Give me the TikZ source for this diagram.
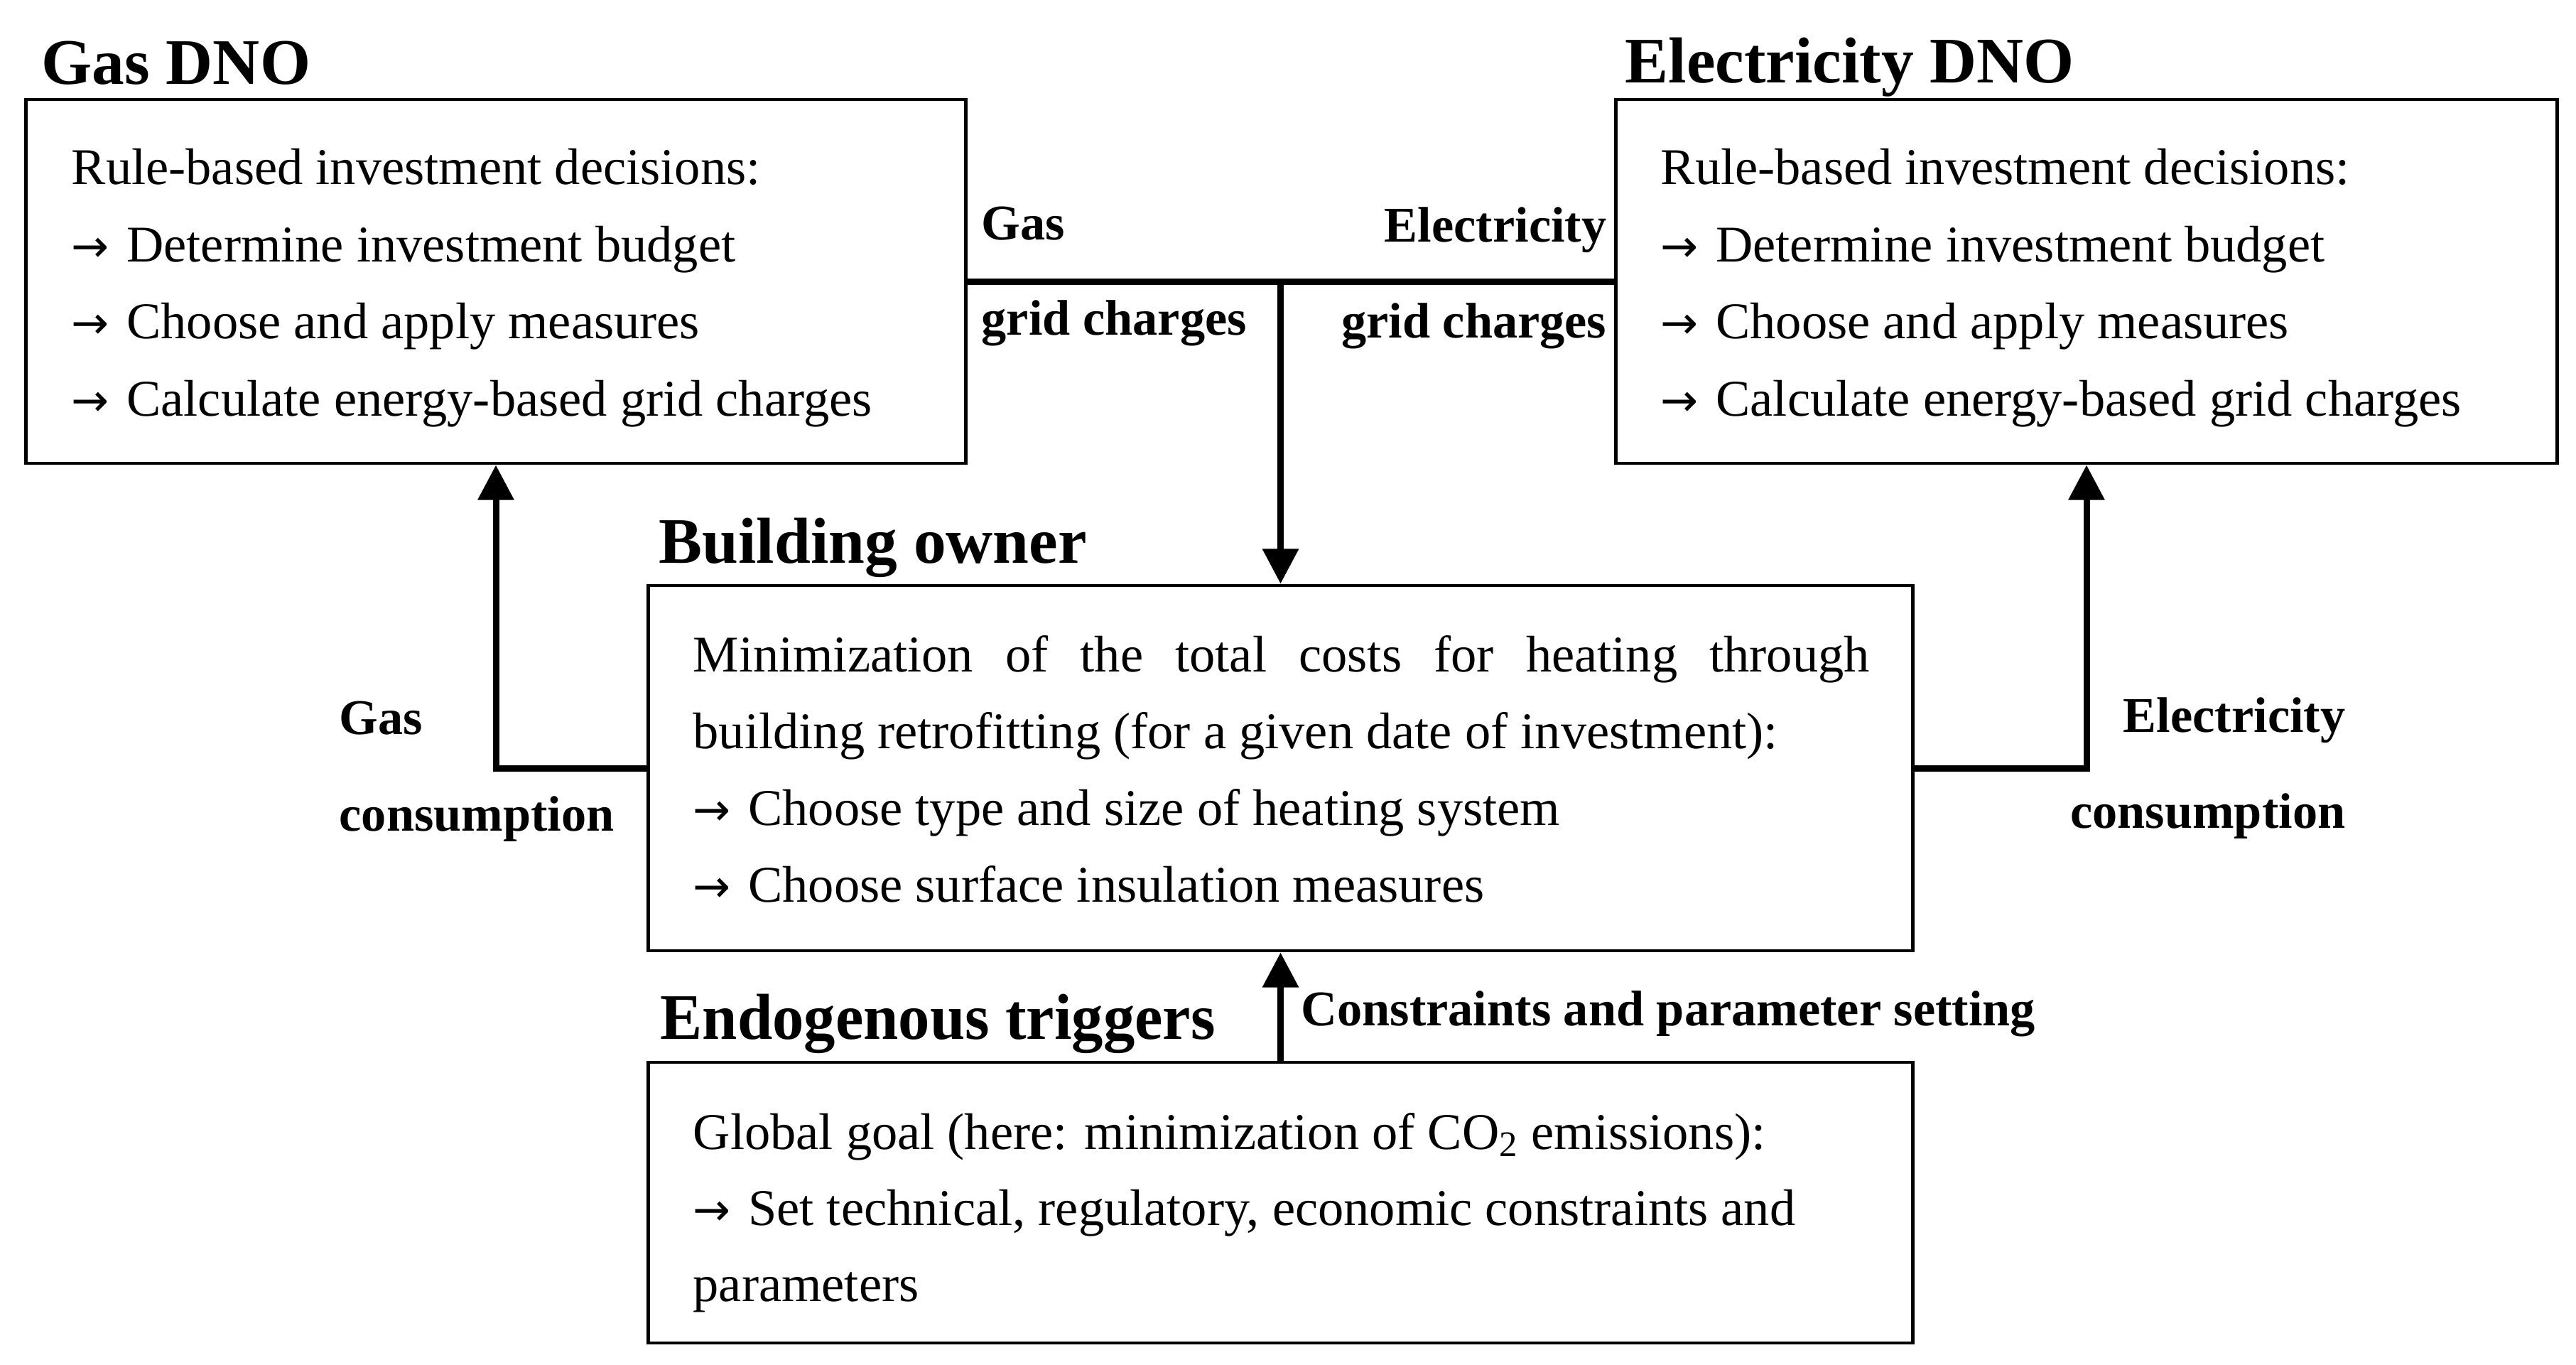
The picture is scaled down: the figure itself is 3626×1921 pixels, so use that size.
\documentclass[tikz,border=0pt]{standalone}
\usepackage{fontspec}
\setmainfont{Liberation Serif}
\newfontfamily\arrfont{DejaVu Sans}
\usetikzlibrary{arrows.meta}
\newcommand\myBody{\fontsize{20.6}{24}\selectfont}
\newcommand\myLbl{\fontsize{20}{24}\selectfont\bfseries}
\newcommand\myHead{\fontsize{26}{30}\selectfont\bfseries}
\newcommand\myArr{{\fontsize{18}{20}\arrfont →}\hspace{7pt}}
\begin{document}
\begin{tikzpicture}[x=0.01cm,y=-0.01cm,
  box/.style={draw, line width=1.28pt, inner sep=0pt},
  conn/.style={line width=2.56pt},
  tip/.style={-{Triangle[length=14pt,width=14pt]}},
  head/.style={anchor=base west, inner sep=0pt, font=\myHead},
  txt/.style={anchor=base west, inner sep=0pt, font=\myBody},
  lbl/.style={anchor=base west, inner sep=0pt, font=\myLbl},
  lblr/.style={anchor=base east, inner sep=0pt, font=\myLbl}]
\useasboundingbox (0,0) rectangle (3626,1921);

% boxes
\node[box, minimum width=13.22cm, minimum height=5.12cm] (gasbox) at (698,396) {};
\node[box, minimum width=13.24cm, minimum height=5.12cm] (elecbox) at (2937,396) {};
\node[box, minimum width=17.79cm, minimum height=5.14cm] (bob) at (1802.5,1081) {};
\node[box, minimum width=17.79cm, minimum height=3.95cm] (endo) at (1802.5,1692.5) {};

% headings
\node[head] (hgas) at (58,118) {Gas DNO};
\node[head] (helec) at (2287,116) {Electricity DNO};
\node[head] (hbob) at (927,792) {Building owner};
\node[head, xscale=0.97] (hendo) at (929,1462) {Endogenous triggers};

% gas DNO text
\node[txt] (g1) at (100,259) {Rule-based investment decisions:};
\node[txt] (g2) at (100,368) {\myArr Determine investment budget};
\node[txt] (g3) at (100,476) {\myArr Choose and apply measures};
\node[txt] (g4) at (100,585) {\myArr Calculate energy-based grid charges};

% electricity DNO text
\node[txt] (e1) at (2337,259) {Rule-based investment decisions:};
\node[txt] (e2) at (2337,368) {\myArr Determine investment budget};
\node[txt] (e3) at (2337,476) {\myArr Choose and apply measures};
\node[txt] (e4) at (2337,585) {\myArr Calculate energy-based grid charges};

% building owner text
\node[txt] (b1) at (975,945) {\makebox[16.55cm][s]{Minimization of the total costs for heating through}};
\node[txt] (b2) at (975,1053) {building retrofitting (for a given date of investment):};
\node[txt] (b3) at (975,1161) {\myArr Choose type and size of heating system};
\node[txt] (b4) at (975,1269) {\myArr Choose surface insulation measures};

% endogenous text
\node[txt] (t1) at (975,1617) {Global goal (here: minimization of CO\textsubscript{2} emissions):};
\node[txt] (t2) at (975,1724) {\myArr Set technical, regulatory, economic constraints and};
\node[txt] (t3) at (975,1831) {parameters};

% connector labels
\node[lbl] (lg1) at (1381,337) {Gas};
\node[lbl] (lg2) at (1381,471) {grid charges};
\node[lblr] (le1) at (2262,340) {Electricity};
\node[lblr] (le2) at (2262,475) {grid charges};
\node[lbl] (lc1) at (477,1033) {Gas};
\node[lbl] (lc2) at (477,1169) {consumption};
\node[lblr] (lec1) at (3302,1030) {Electricity};
\node[lblr] (lec2) at (3302,1165) {consumption};
\node[lbl] (lcp) at (1831,1443) {Constraints and parameter setting};

% connectors
\coordinate (j) at (bob.north |- gasbox.east);
\draw[conn] (gasbox.east) -- (elecbox.west);
\draw[conn, tip] (j) -- (bob.north);
\draw[conn, tip] (bob.west) -| (gasbox.south);
\draw[conn, tip] (bob.east) -| (elecbox.south);
\draw[conn, tip] (endo.north) -- (bob.south);
\end{tikzpicture}
\end{document}
